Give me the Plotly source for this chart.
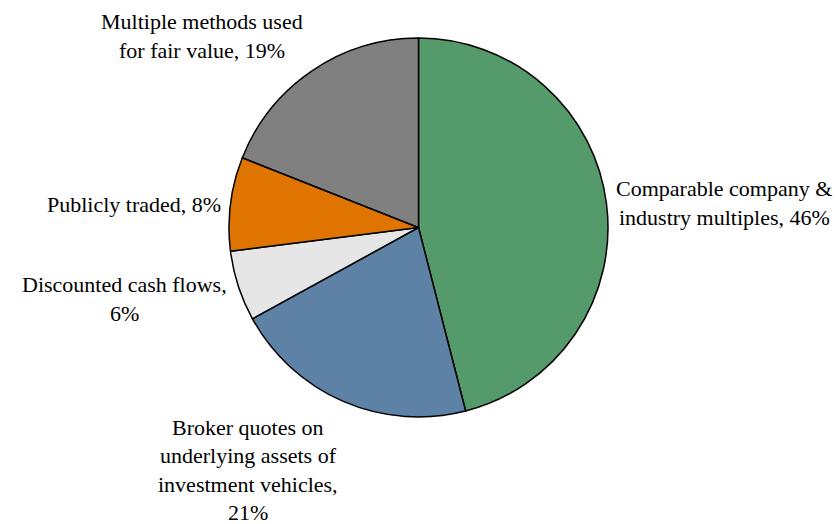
import plotly.graph_objects as go

# Valuation methods and their share of fair value (%)
methods = [
    "Comparable company &<br>industry multiples",
    "Broker quotes on<br>underlying assets of<br>investment vehicles,",
    "Discounted cash flows,",
    "Publicly traded",
    "Multiple methods used<br>for fair value",
]
shares = [46, 21, 6, 8, 19]
colors = ["#559A6B", "#5D82A6", "#E6E6E6", "#DF7400", "#808080"]

# separator between method name and its share in each outside label
separators = [", ", "<br>", "<br>", ", ", ", "]
# label centre positions in pixels (x, y from top)
label_px = [(724, 203), (248, 470), (124, 299), (134, 205), (202, 36)]

W, H = 837, 524
FONT = "Liberation Serif, Tinos, serif"
FSIZE = 22
LINE_H = 28.6

fig = go.Figure(
    go.Pie(
        labels=[m.replace("<br>", " ") for m in methods],
        values=shares,
        sort=False,
        direction="clockwise",
        rotation=0,
        marker=dict(colors=colors, line=dict(color="black", width=1.5)),
        textinfo="none",
        hoverinfo="label+percent",
        domain=dict(x=[229 / W, 608 / W], y=[107 / H, 486 / H]),
        showlegend=False,
    )
)

# each label line is placed as its own text item, stacked around the centre
for m, v, sep, (cx, cy) in zip(methods, shares, separators, label_px):
    lines = f"{m}{sep}{v}%".split("<br>")
    top = cy - LINE_H * (len(lines) - 1) / 2
    for k, line in enumerate(lines):
        fig.add_annotation(
            x=cx / W, y=1 - (top + k * LINE_H) / H,
            xref="paper", yref="paper",
            text=line,
            showarrow=False,
            xanchor="center", yanchor="middle",
            font=dict(family=FONT, size=FSIZE, color="black"),
        )

fig.update_layout(
    width=W, height=H,
    margin=dict(l=0, r=0, t=0, b=0),
    paper_bgcolor="white",
    plot_bgcolor="white",
    font=dict(family=FONT, color="black"),
)

fig.write_html("out.html")
